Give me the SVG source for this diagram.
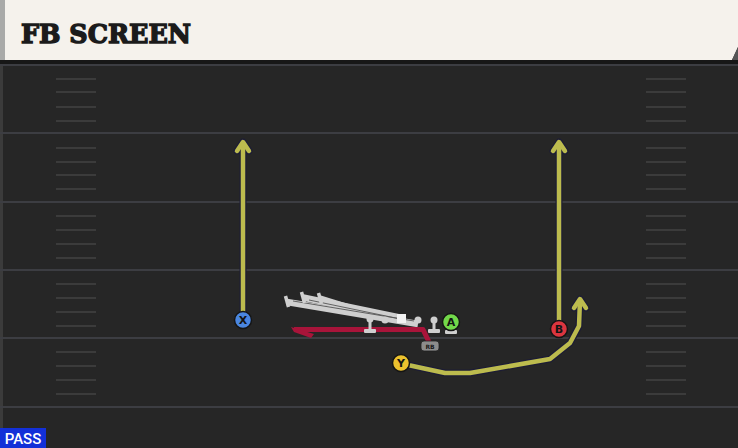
<svg xmlns="http://www.w3.org/2000/svg" width="738" height="448" viewBox="0 0 738 448">
<defs>
<style>
.yl{stroke:#3c3d42;stroke-width:2}
.hs{stroke:#3b3b3b;stroke-width:2}
.ro{fill:none;stroke:#1d1d35;stroke-width:7;stroke-linecap:round;stroke-linejoin:round}
.rc{fill:none;stroke:#bcbb4e;stroke-width:4.5;stroke-linecap:round;stroke-linejoin:round}
.pl{stroke:#151515;stroke-width:1.5}
.lt{font-family:"DejaVu Sans","Liberation Sans",sans-serif;font-weight:bold;font-size:11px;fill:#141414;text-anchor:middle}
</style>
</defs>
<rect width="738" height="448" fill="#262626"/>
<rect x="0" y="59" width="3" height="389" fill="#3b3b3b"/>
<g id="field">
<line class="yl" x1="0" y1="65" x2="738" y2="65"/>
<line class="yl" x1="0" y1="133" x2="738" y2="133"/>
<line class="yl" x1="0" y1="202" x2="738" y2="202"/>
<line class="yl" x1="0" y1="270" x2="738" y2="270"/>
<line class="yl" x1="0" y1="338" x2="738" y2="338"/>
<line class="yl" x1="0" y1="407" x2="738" y2="407"/>
<g id="hashL">
<line class="hs" x1="56" y1="79" x2="96" y2="79"/><line class="hs" x1="56" y1="92" x2="96" y2="92"/><line class="hs" x1="56" y1="107" x2="96" y2="107"/><line class="hs" x1="56" y1="121" x2="96" y2="121"/>
<line class="hs" x1="56" y1="148" x2="96" y2="148"/><line class="hs" x1="56" y1="162" x2="96" y2="162"/><line class="hs" x1="56" y1="175" x2="96" y2="175"/><line class="hs" x1="56" y1="189" x2="96" y2="189"/>
<line class="hs" x1="56" y1="216" x2="96" y2="216"/><line class="hs" x1="56" y1="230" x2="96" y2="230"/><line class="hs" x1="56" y1="244" x2="96" y2="244"/><line class="hs" x1="56" y1="258" x2="96" y2="258"/>
<line class="hs" x1="56" y1="284" x2="96" y2="284"/><line class="hs" x1="56" y1="298" x2="96" y2="298"/><line class="hs" x1="56" y1="312" x2="96" y2="312"/><line class="hs" x1="56" y1="326" x2="96" y2="326"/>
<line class="hs" x1="56" y1="352" x2="96" y2="352"/><line class="hs" x1="56" y1="366" x2="96" y2="366"/><line class="hs" x1="56" y1="380" x2="96" y2="380"/><line class="hs" x1="56" y1="394" x2="96" y2="394"/>
</g>
<g id="hashR">
<line class="hs" x1="646" y1="79" x2="686" y2="79"/><line class="hs" x1="646" y1="92" x2="686" y2="92"/><line class="hs" x1="646" y1="107" x2="686" y2="107"/><line class="hs" x1="646" y1="121" x2="686" y2="121"/>
<line class="hs" x1="646" y1="148" x2="686" y2="148"/><line class="hs" x1="646" y1="162" x2="686" y2="162"/><line class="hs" x1="646" y1="175" x2="686" y2="175"/><line class="hs" x1="646" y1="189" x2="686" y2="189"/>
<line class="hs" x1="646" y1="216" x2="686" y2="216"/><line class="hs" x1="646" y1="230" x2="686" y2="230"/><line class="hs" x1="646" y1="244" x2="686" y2="244"/><line class="hs" x1="646" y1="258" x2="686" y2="258"/>
<line class="hs" x1="646" y1="284" x2="686" y2="284"/><line class="hs" x1="646" y1="298" x2="686" y2="298"/><line class="hs" x1="646" y1="312" x2="686" y2="312"/><line class="hs" x1="646" y1="326" x2="686" y2="326"/>
<line class="hs" x1="646" y1="352" x2="686" y2="352"/><line class="hs" x1="646" y1="366" x2="686" y2="366"/><line class="hs" x1="646" y1="380" x2="686" y2="380"/><line class="hs" x1="646" y1="394" x2="686" y2="394"/>
</g>
</g>
<g id="header">
<rect x="0" y="59" width="738" height="5" fill="#171717"/>
<polygon points="0,0 738,0 738,47 732,60 0,60" fill="#f5f2ec"/>
<polygon points="738,47 738,60 732,60" fill="#555"/>
<rect x="0" y="0" width="5" height="60" fill="#a9aaa8"/>
<text x="21" y="43" font-family="'DejaVu Serif','Liberation Serif',serif" font-weight="bold" font-size="26" fill="#1b1b1b" stroke="#1b1b1b" stroke-width="1.4" textLength="170" lengthAdjust="spacingAndGlyphs">FB SCREEN</text>
</g>
<g id="connectors">
<g id="blocks">
<line x1="287" y1="302" x2="418" y2="324" stroke="#cfcfcf" stroke-width="6.5"/>
<line x1="303" y1="297.5" x2="402" y2="318" stroke="#cfcfcf" stroke-width="6.5"/>
<line x1="320" y1="298.5" x2="386" y2="319" stroke="#cfcfcf" stroke-width="6.5"/>
<line x1="293" y1="301" x2="414" y2="321" stroke="#555" stroke-width="0.9"/>
<line x1="309" y1="300" x2="398" y2="318.5" stroke="#555" stroke-width="0.9"/>
<line x1="285.5" y1="296" x2="288.5" y2="307" stroke="#cfcfcf" stroke-width="3.5"/>
<line x1="301.5" y1="292" x2="304.5" y2="303" stroke="#cfcfcf" stroke-width="3.5"/>
<line x1="318.5" y1="293" x2="321.5" y2="304" stroke="#cfcfcf" stroke-width="3.5"/>
</g>
<g id="rbRoute">
<polyline points="430,344 423,329.5 294,329.5" fill="none" stroke="#a8143a" stroke-width="5" stroke-linejoin="round"/>
<polygon points="291,327 294,332 311,338 314,334 304,331" fill="#a8143a"/>
</g>
<g id="xRoute">
<line class="ro" x1="243" y1="312" x2="243" y2="143"/>
<polyline class="ro" points="237,151 243,142 249,151"/>
<line class="rc" x1="243" y1="312" x2="243" y2="143"/>
<polyline class="rc" points="237,151 243,142 249,151"/>
</g>
<g id="bRoute">
<line class="ro" x1="559" y1="321" x2="559" y2="143"/>
<polyline class="ro" points="553,151 559,142 565,151"/>
<line class="rc" x1="559" y1="321" x2="559" y2="143"/>
<polyline class="rc" points="553,151 559,142 565,151"/>
</g>
<g id="yRoute">
<polyline class="ro" points="408,365 445,373 470,373 550,359 570,343 579,326 580,300"/>
<polyline class="ro" points="574,308 580,299 586,308"/>
<polyline class="rc" points="408,365 445,373 470,373 550,359 570,343 579,326 580,300"/>
<polyline class="rc" points="574,308 580,299 586,308"/>
</g>
</g>
<g id="line">
<g id="lm1"><circle cx="370" cy="319" r="3.5" fill="#cfcfcf"/><rect x="368.5" y="319" width="3" height="11" fill="#cfcfcf"/><rect x="364" y="329" width="12" height="4" rx="1" fill="#cfcfcf"/></g>
<g id="lm2"><circle cx="385" cy="320" r="3.5" fill="#cfcfcf"/></g>
<g id="center"><rect x="397" y="314" width="9" height="9" fill="#f2f2f2"/></g>
<g id="lm4"><circle cx="418" cy="320" r="3.5" fill="#cfcfcf"/></g>
<g id="lm5"><circle cx="434" cy="320" r="3.5" fill="#cfcfcf"/><rect x="432.5" y="320" width="3" height="10" fill="#cfcfcf"/><rect x="428" y="329" width="12" height="4" rx="1" fill="#cfcfcf"/></g>
</g>
<g id="A"><rect x="445" y="330" width="12" height="4" rx="1" fill="#cfcfcf"/><circle cx="451" cy="322" r="8.5" fill="#72d84a" class="pl"/><text x="451" y="326" class="lt">A</text></g>
<g id="X"><circle cx="243" cy="320" r="8.5" fill="#4a86e0" class="pl"/><text x="243" y="324" class="lt">X</text></g>
<g id="B"><circle cx="559" cy="329" r="8.5" fill="#dc353f" class="pl"/><text x="559" y="333" class="lt">B</text></g>
<g id="Y"><circle cx="401" cy="363" r="8.5" fill="#ecc22e" class="pl"/><text x="401" y="367" class="lt">Y</text></g>
<g id="RB"><rect x="421" y="341" width="18" height="10" rx="3" fill="#8c8c8c" stroke="#222" stroke-width="0.8"/><text x="430" y="349" font-family="'DejaVu Sans','Liberation Sans',sans-serif" font-weight="bold" font-size="6" fill="#1a1a1a" text-anchor="middle">RB</text></g>
<g id="pass"><rect x="0" y="428" width="46" height="20" fill="#1330d8"/><text x="23" y="444" font-family="Roboto,'Liberation Sans',sans-serif" font-weight="500" font-size="15" fill="#ffffff" text-anchor="middle">PASS</text></g>
</svg>
